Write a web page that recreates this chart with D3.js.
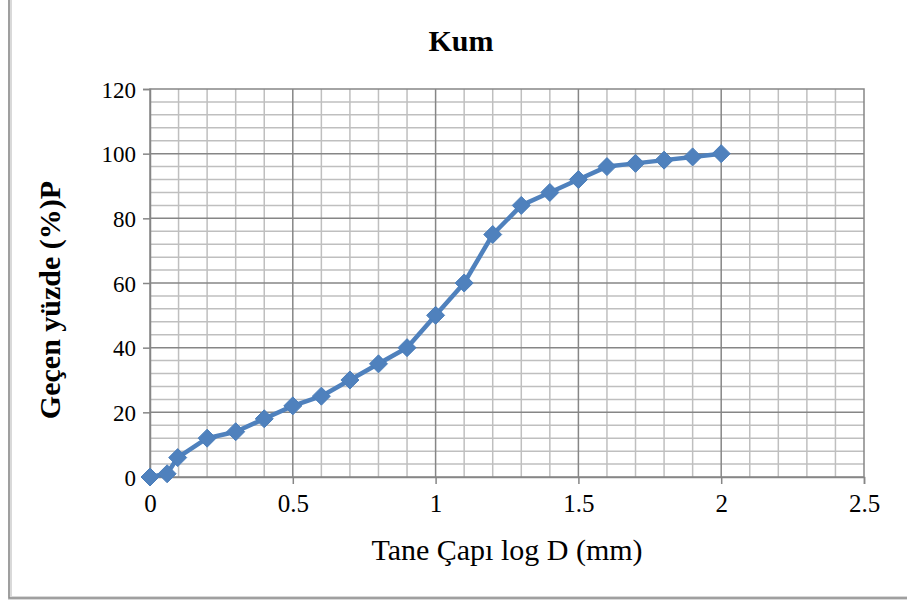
<!DOCTYPE html>
<html>
<head>
<meta charset="utf-8">
<script src="https://cdn.jsdelivr.net/npm/d3@7"></script>
<style>
  body { margin: 0; background: #fff; }
  svg { display: block; }
  svg text { font-family: "Liberation Serif", "Times New Roman", serif; }
</style>
</head>
<body>
<div id="chart"></div>
<script>
// Data
const logD = [0, 0.06, 0.097, 0.2, 0.3, 0.4, 0.5, 0.6, 0.7, 0.8, 0.9, 1.0, 1.1, 1.2, 1.3, 1.4, 1.5, 1.6, 1.7, 1.8, 1.9, 2.0];
const passing = [0, 1, 6, 12, 14, 18, 22, 25, 30, 35, 40, 50, 60, 75, 84, 88, 92, 96, 97, 98, 99, 100];
const xTicks = [0, 0.5, 1, 1.5, 2, 2.5];
const yTicks = [0, 20, 40, 60, 80, 100, 120];
const titleText = 'Kum';
const xTitle = 'Tane Çapı log D (mm)';
const yTitle = 'Geçen yüzde (%)P';

const width = 907, height = 603;
const plot = { left: 150, right: 864, top: 89, bottom: 477 };
const serif = '"Liberation Serif", "Times New Roman", serif';

const svg = d3.select('#chart')
    .append('svg')
    .attr('width', width)
    .attr('height', height);

// Chart border (top/right run off the page)
svg.append('rect')
    .attr('x', 10).attr('y', -20)
    .attr('width', 1000).attr('height', 618)
    .attr('fill', 'none')
    .attr('stroke', '#d9d9d9')
    .attr('stroke-width', 4);
svg.append('rect')
    .attr('x', 9).attr('y', -20)
    .attr('width', 1000).attr('height', 618)
    .attr('fill', 'none')
    .attr('stroke', '#8c8c8c')
    .attr('stroke-width', 1.5);

const x = d3.scaleLinear().domain([0, 2.5]).range([plot.left, plot.right]);
const y = d3.scaleLinear().domain([0, 120]).range([plot.bottom, plot.top]);

// Minor grid
const g = svg.append('g');
g.selectAll('line.vminor')
    .data(d3.range(1, 25).map(i => i / 10).filter(v => Math.abs(v * 2 - Math.round(v * 2)) > 1e-6))
    .join('line')
    .attr('x1', d => x(d)).attr('x2', d => x(d))
    .attr('y1', plot.top).attr('y2', plot.bottom)
    .attr('stroke', '#bfbfbf').attr('stroke-width', 1.5);
g.selectAll('line.hminor')
    .data(d3.range(1, 30).map(i => i * 4).filter(v => v % 20 !== 0))
    .join('line')
    .attr('y1', d => y(d)).attr('y2', d => y(d))
    .attr('x1', plot.left).attr('x2', plot.right)
    .attr('stroke', '#bfbfbf').attr('stroke-width', 1.5);

// Major grid
g.selectAll('line.vmajor')
    .data(xTicks.slice(1, -1))
    .join('line')
    .attr('x1', d => x(d)).attr('x2', d => x(d))
    .attr('y1', plot.top).attr('y2', plot.bottom)
    .attr('stroke', '#868686').attr('stroke-width', 1.5);
g.selectAll('line.hmajor')
    .data(yTicks.slice(1, -1))
    .join('line')
    .attr('y1', d => y(d)).attr('y2', d => y(d))
    .attr('x1', plot.left).attr('x2', plot.right)
    .attr('stroke', '#868686').attr('stroke-width', 1.5);

// Plot area frame
svg.append('rect')
    .attr('x', plot.left).attr('y', plot.top)
    .attr('width', plot.right - plot.left).attr('height', plot.bottom - plot.top)
    .attr('fill', 'none')
    .attr('stroke', '#868686').attr('stroke-width', 1.5);

// Axes
const xAxis = svg.append('g')
    .attr('transform', `translate(0,${plot.bottom})`)
    .call(d3.axisBottom(x).tickValues(xTicks).tickFormat(d3.format('')).tickSize(7).tickPadding(10));
const yAxis = svg.append('g')
    .attr('transform', `translate(${plot.left},0)`)
    .call(d3.axisLeft(y).tickValues(yTicks).tickSize(7).tickPadding(7));

[xAxis, yAxis].forEach(a => {
    a.attr('font-family', serif);
    a.select('.domain').attr('stroke', '#868686').attr('stroke-width', 1.5);
    a.selectAll('.tick line').attr('stroke', '#868686').attr('stroke-width', 1.5);
    a.selectAll('text').attr('fill', '#000').style('font-family', serif);
});
xAxis.attr('font-size', 25);
yAxis.attr('font-size', 23);
yAxis.selectAll('text').attr('dy', '0.35em');

// Series line
const line = d3.line()
    .x((d, i) => x(logD[i]))
    .y(d => y(d));
svg.append('path')
    .datum(passing)
    .attr('d', line)
    .attr('fill', 'none')
    .attr('stroke', '#4f81bd')
    .attr('stroke-width', 4.5)
    .attr('stroke-linejoin', 'round');

// Diamond markers
const r = 9;
svg.append('g')
    .selectAll('path')
    .data(passing)
    .join('path')
    .attr('transform', (d, i) => `translate(${x(logD[i])},${y(d)})`)
    .attr('d', `M0,${-r}L${r},0L0,${r}L${-r},0Z`)
    .attr('fill', '#4f81bd')
    .attr('stroke', '#4a7ebb')
    .attr('stroke-width', 1);

// Titles
svg.append('text')
    .attr('x', 461).attr('y', 51)
    .attr('text-anchor', 'middle')
    .attr('font-weight', 'bold')
    .attr('font-size', 30)
    .text(titleText);

svg.append('text')
    .attr('x', (plot.left + plot.right) / 2).attr('y', 560)
    .attr('text-anchor', 'middle')
    .attr('font-size', 30)
    .text(xTitle);

svg.append('text')
    .attr('transform', 'translate(60,300) rotate(-90)')
    .attr('text-anchor', 'middle')
    .attr('font-weight', 'bold')
    .attr('font-size', 30)
    .text(yTitle);
</script>
</body>
</html>
